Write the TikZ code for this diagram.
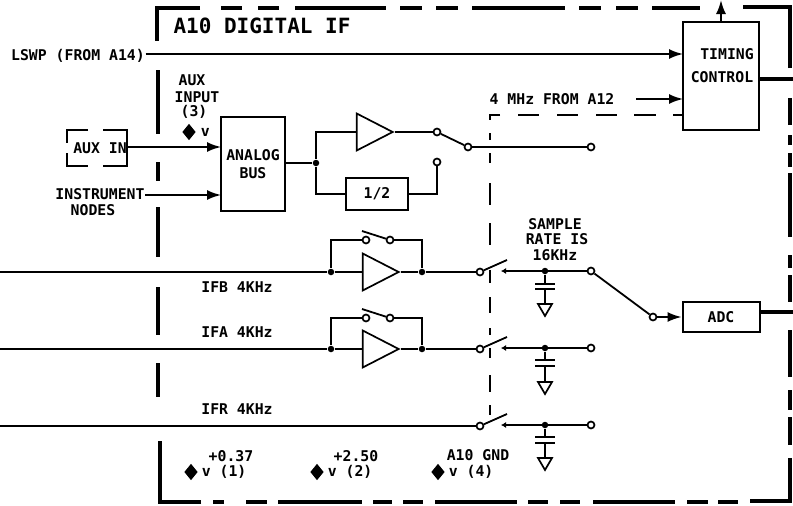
\documentclass[tikz,border=0pt]{standalone}
\usepackage{fontspec}
\setmonofont{DejaVu Sans Mono}
\usetikzlibrary{arrows.meta, positioning, calc, shapes.geometric}

\begin{document}
\begin{tikzpicture}[x=1pt, y=-1pt, >={Latex[length=14pt,width=10pt]}, line width=1.8pt,
  font=\ttfamily\bfseries\fontsize{14.8}{15}\selectfont,
  block/.style={draw, line width=2pt, align=center, inner sep=0pt},
  lbl/.style={inner sep=0pt, align=center},
  amp/.style={draw, line width=1.7pt, isosceles triangle, isosceles triangle stretches, minimum width=37pt, minimum height=36pt, inner sep=0pt},
  gnd/.style={draw, line width=1.7pt, isosceles triangle, isosceles triangle stretches, shape border rotate=270, minimum width=14pt, minimum height=12pt, inner sep=0pt},
  term/.style={draw, circle, fill=white, line width=1.7pt, inner sep=0pt, minimum size=7pt},
  dot/.style={fill=black, circle, inner sep=0pt, minimum size=6.5pt},
  probe/.style={fill=black, diamond, inner sep=0pt, minimum width=14pt, minimum height=17pt},
  frame/.style={line width=3.4pt},
  inner/.style={line width=2pt}]
\useasboundingbox (0,0) rectangle (793,506);
% outer board outline
\draw[frame] (200,8) -- (157,8) -- (157,41);
\draw[frame] (790,68) -- (790,7) -- (743,7);
\draw[frame] (201,502) -- (160,502) -- (160,441);
\draw[frame] (750,501) -- (790,501) -- (790,458);
\foreach \a/\b in {221/242,258/279,295/386,400/422,436/458,472/565,579/601,616/638,652/700}
  \draw[frame] (\a,8) -- (\b,8);
\foreach \a/\b in {213/224,246/267,278/362,373/392,403/423,435/517,528/548,560/580,593/675,687/708,718/738}
  \draw[frame] (\a,502) -- (\b,502);
\foreach \a/\b in {70/134,162/181,207/257,287/335,363/397}
  \draw[frame] (158,\a) -- (158,\b);
\foreach \a/\b in {98/125,135/145,153/167,173/237,255/268,275/302,330/377,390/410,417/445}
  \draw[frame] (790,\a) -- (790,\b);
% inner digital area
\draw[inner] (500,115) -- (490,115) -- (490,120);
\foreach \a/\b in {518/539,557/578,596/617,634/656,673/683}
  \draw[inner] (\a,115) -- (\b,115);
\foreach \a/\b in {133/140,153/163,183/205,223/245,270/283,297/313,328/335,348/358,375/392,405/415}
  \draw[inner] (490,\a) -- (490,\b);
% blocks
\node[block, minimum width=64pt, minimum height=94pt] (bus) at (253,164) {ANALOG\\[3pt]BUS};
\node[block, minimum width=62pt, minimum height=32pt] (half) at (377,194) {1/2};
\node[block, minimum width=76pt, minimum height=108pt] (timing) at (721,76) {};
\node[block, minimum width=77pt, minimum height=30pt] (adc) at (721,317) {ADC};
\node[lbl] at (727,54) {TIMING};
\node[lbl] at (722,77) {CONTROL};
\node[lbl, minimum width=60pt, minimum height=36pt] (aux) at (97,148) {\hspace{6pt}AUX IN};
\draw[inner] (88,130) -- (67,130) -- (67,143);
\draw[inner] (67,153) -- (67,166) -- (88,166);
\draw[inner] (103,130) -- (127,130) -- (127,166) -- (103,166);
% labels
\node[lbl, font=\ttfamily\bfseries\fontsize{21}{22}\selectfont] (title) at (262,26) {A10 DIGITAL IF};
\node[lbl] (lswp) at (78,56) {LSWP (FROM A14)};
\node[lbl] (instr) at (100,194) {INSTRUMENT};
\node[lbl] at (93,210) {NODES};
\node[lbl] at (192,80) {AUX};
\node[lbl] at (197,97) {INPUT};
\node[lbl] at (194,112) {(3)};
\node[probe] (p3) at (189,132) {};
\node[lbl, right=3pt of p3] {v};
\node[lbl] (mhz) at (552,99) {4 MHz FROM A12};
\node[lbl] at (555,224) {SAMPLE};
\node[lbl] at (557,239) {RATE IS};
\node[lbl] at (555,255) {16KHz};
\node[lbl] at (237,287) {IFB 4KHz};
\node[lbl] at (237,332) {IFA 4KHz};
\node[lbl] at (237,409) {IFR 4KHz};
\node[lbl] at (231,456) {+0.37};
\node[lbl] at (356,456) {+2.50};
\node[lbl] at (478,455) {A10 GND};
\node[probe] (p1) at (191,472) {};
\node[probe] (p2) at (317,472) {};
\node[probe] (p4) at (438,472) {};
\node[lbl, right=2pt of p1] {v (1)};
\node[lbl, right=2pt of p2] {v (2)};
\node[lbl, right=2pt of p4] {v (4)};
% timing and bus inputs
\coordinate (lswpin) at (683,54);
\coordinate (mhzout) at (636,99);
\coordinate (mhzin) at (683,99);
\coordinate (clk) at (721,0);
\coordinate (timout) at (793,79);
\coordinate (auxin) at (221,147);
\coordinate (instrin) at (221,195);
\draw[->] (lswp.east |- lswpin) -- (lswpin);
\draw[->] (mhzout) -- (mhzin);
\draw[->, line width=2pt] (timing.north) -- (clk);
\draw[frame] (timing.east |- timout) -- (timout);
\draw[->] (aux.east |- auxin) -- (auxin);
\draw[->] (instr.east |- instrin) -- (instrin);
% aux path
\node[dot] (busdot) at (316,163) {};
\node[amp] (auxamp) at (368,132) {};
\node[term] (sa) at (437,132) {};
\node[term] (sb) at (437,162) {};
\node[term] (sc) at (468,147) {};
\node[term] (auxout) at (591,147) {};
\draw (bus.east |- busdot) -- (busdot);
\draw (busdot) |- (auxamp.west);
\draw (busdot) |- (half.west);
\draw (auxamp.east) -- (sa);
\draw (half.east) -| (sb);
\draw (sa) -- (sc);
\draw (sc) -- (auxout);
% channels with amplifier
\foreach \ch/\yy/\yf in {b/272/240, a/349/318} {
  \coordinate (in\ch) at (0,\yy);
  \node[dot] (l\ch) at (331,\yy) {};
  \node[dot] (r\ch) at (422,\yy) {};
  \node[amp] (amp\ch) at (374,\yy) {};
  \node[term] (fa\ch) at (366,\yf) {};
  \node[term] (fb\ch) at (390,\yf) {};
  \coordinate (lev\ch) at (362,\yf-9);
  \draw (in\ch) -- (l\ch);
  \draw (l\ch) -- (amp\ch.west);
  \draw (amp\ch.east) -- (r\ch);
  \draw (l\ch) |- (fa\ch);
  \draw (fb\ch) -| (r\ch);
  \draw (lev\ch) -- (fb\ch);
}
% sampling switches
\foreach \ch/\yy/\ya/\yb/\yg in {b/272/284/289/308, a/349/360/366/386, r/426/437/443/462} {
  \node[term] (sw\ch) at (480,\yy) {};
  \node[term] (out\ch) at (591,\yy-1) {};
  \node[dot] (c\ch) at (545,\yy-1) {};
  \coordinate (tip\ch) at (501,\yy-1);
  \coordinate (lever\ch) at (507,\yy-12);
  \coordinate (pa\ch) at (545,\ya);
  \coordinate (pb\ch) at (545,\yb);
  \node[gnd] (g\ch) at (545,\yg) {};
  \draw (sw\ch) -- (lever\ch);
  \draw[-{Latex[length=5pt,width=6pt]}] (out\ch) -- (tip\ch);
  \draw (c\ch) -- (pa\ch);
  \draw (pb\ch) -- (g\ch.north);
  \draw ($(pa\ch)+(-10,0)$) -- ($(pa\ch)+(10,0)$);
  \draw ($(pb\ch)+(-10,0)$) -- ($(pb\ch)+(10,0)$);
}
\coordinate (inr) at (0,426);
\draw (inr) -- (swr);
\draw (rb) -- (swb);
\draw (ra) -- (swa);
% adc
\node[term] (adcin) at (653,317) {};
\coordinate (adcout) at (793,312);
\draw (outb) -- (adcin);
\draw[->] (adcin) -- (adc.west);
\draw[frame] (adc.east |- adcout) -- (adcout);
\end{tikzpicture}
\end{document}
